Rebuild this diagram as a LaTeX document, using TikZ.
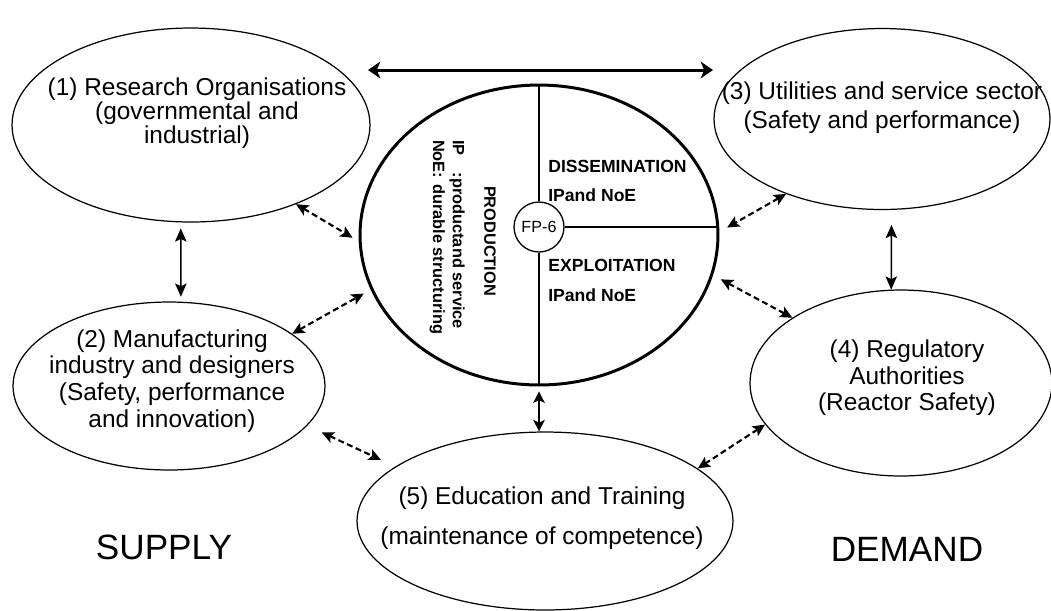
\documentclass[tikz,border=0pt]{standalone}
\usepackage{fontspec}
\setmainfont{Liberation Sans}
\usetikzlibrary{arrows.meta,shapes.geometric}
\begin{document}
\begin{tikzpicture}[x=0.02cm,y=-0.02cm,
  actor/.style={draw, ellipse, line width=0.7pt, inner sep=0pt},
  hub/.style={draw, ellipse, line width=1.7pt, inner sep=0pt},
  core/.style={draw, circle, line width=0.75pt, inner sep=0pt, minimum size=1cm,
    font=\fontsize{9.2}{10}\selectfont},
  divider/.style={line width=0.9pt},
  lbl/.style={align=center, inner sep=0pt, font=\fontsize{13.9}{15.5}\selectfont},
  phase/.style={anchor=west, inner sep=0pt, font=\fontsize{10}{12}\selectfont\bfseries},
  side/.style={inner sep=0pt, font=\fontsize{20}{24}\selectfont},
  bigarrow/.style={line width=1.7pt, {Stealth[length=7pt,width=9.5pt,inset=2pt]}-{Stealth[length=7pt,width=9.5pt,inset=2pt]}},
  thinarrow/.style={line width=0.85pt, {Stealth[length=7.5pt,width=6.5pt,inset=1.5pt]}-{Stealth[length=7.5pt,width=6.5pt,inset=1.5pt]}},
  thickarrow/.style={line width=1.4pt, {Stealth[length=6.5pt,width=6.5pt,inset=1.5pt]}-{Stealth[length=6.5pt,width=6.5pt,inset=1.5pt]}},
  linkarrow/.style={line width=1.2pt, dash pattern=on 3.4pt off 2pt,
    {Stealth[length=7pt,width=6.5pt,inset=1.5pt]}-{Stealth[length=7pt,width=6.5pt,inset=1.5pt]}},
]
\useasboundingbox (0,0) rectangle (1051,610);

% the five sectors
\node[actor, minimum width=7.16cm, minimum height=3.88cm] (e1) at (191,125) {};
\node[actor, minimum width=6.24cm, minimum height=3.36cm] (e2) at (169,386) {};
\node[actor, minimum width=6.72cm, minimum height=3.62cm] (e3) at (882,119) {};
\node[actor, minimum width=6.04cm, minimum height=3.72cm] (e4) at (901,383) {};
\node[actor, minimum width=7.52cm, minimum height=3.56cm] (e5) at (545,521) {};

\node[lbl, font=\fontsize{13.9}{13.5}\selectfont] (t1) at (197,113)
  {(1) Research Organisations\\(governmental and\\industrial)};
\node[lbl, font=\fontsize{13.9}{15.3}\selectfont] (t2) at (172,381)
  {(2) Manufacturing\\industry and designers\\(Safety, performance\\and innovation)};
\node[lbl, font=\fontsize{13.9}{16.4}\selectfont] (t3) at (882,108)
  {(3) Utilities and service sector\\(Safety and performance)};
\node[lbl, font=\fontsize{13.9}{15}\selectfont] (t4) at (907,378)
  {(4) Regulatory\\Authorities\\(Reactor Safety)};
\node[lbl, font=\fontsize{13.9}{22.7}\selectfont] (t5) at (542,518)
  {(5) Education and Training\\(maintenance of competence)};

% the programme hub
\node[hub, minimum width=7.16cm, minimum height=6cm] (c) at (539,235) {};
\node[core] (fp) at (539,227) {FP-6};
\draw[divider] (fp.north) -- (c.north);
\draw[divider] (fp.south) -- (c.south);
\draw[divider] (fp.east) -- (fp.east -| c.east);

\node[phase] (dis) at (548,166) {DISSEMINATION};
\node[phase] (dis2) at (548,195) {IPand NoE};
\node[phase] (exp) at (548,265) {EXPLOITATION};
\node[phase] (exp2) at (548,295) {IPand NoE};

\node[rotate=-90, inner sep=0pt, font=\fontsize{9.3}{11}\selectfont\bfseries] (prod) at (490,241) {PRODUCTION};
\node[rotate=-90, inner sep=0pt, font=\fontsize{9.3}{11.3}\selectfont\bfseries] (ipnoe) at (447,237)
  {\begin{tabular}{@{}l@{}l@{}}IP & :productand service\\NoE & : durable structuring\end{tabular}};

% supply and demand sides
\node[side] (supply) at (164,547) {SUPPLY};
\node[side] (demand) at (907,549) {DEMAND};

% solid links
\coordinate (topl) at (368,70);
\coordinate (topr) at (713,70);
\draw[bigarrow] (topl) -- (topr);
\draw[thinarrow, shorten <=3.4pt, shorten >=2.8pt] (e1.-96.5) -- (e2.82.5);
\draw[thinarrow, shorten <=8.5pt] (e3.-84.9) -- (e4.96.7);
\draw[thickarrow, shorten <=2.8pt] (c.south) -- (c.south |- e5.north);

% dashed links to the hub and between sectors
\draw[linkarrow, shorten >=4pt] (e1.-37.6) -- (c.182.5);
\draw[linkarrow, shorten >=4.5pt] (e2.23.2) -- (c.198.1);
\draw[linkarrow, shorten <=9pt, shorten >=9pt] (e2.-16) -- (e5.160);
\draw[linkarrow, shorten >=5pt] (e3.218.9) -- (c.1);
\draw[linkarrow, shorten <=5pt] (c.-13.8) -- (e4.149.9);
\draw[linkarrow] (e4.197.5) -- (e5.19.3);
\end{tikzpicture}
\end{document}
